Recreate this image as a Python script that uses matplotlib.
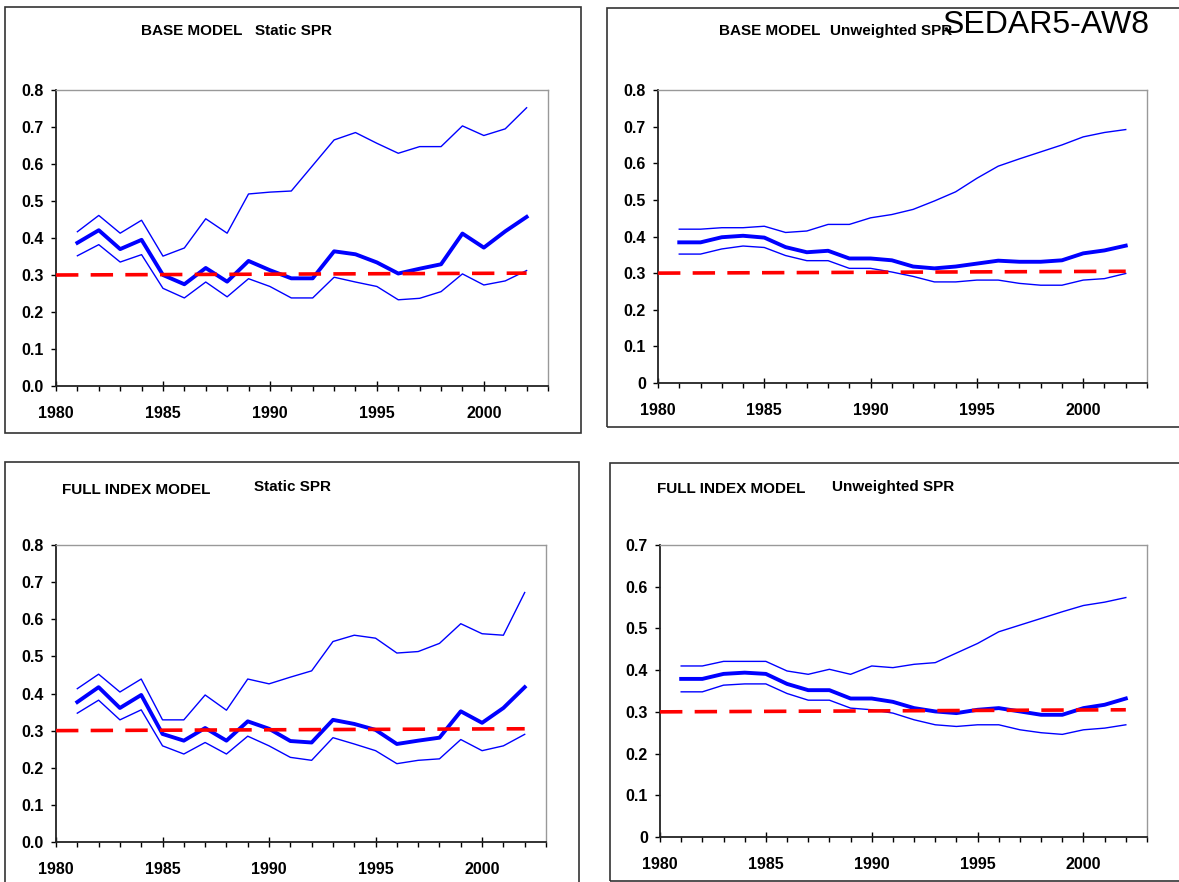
#SPR trajectories (estimate with upper and lower bounds) for the base and full index models

import numpy as np
import matplotlib.pyplot as plt
from matplotlib.patches import Rectangle
from matplotlib.ticker import MultipleLocator, FuncFormatter

plt.rcParams['font.family'] = ['Liberation Sans', 'DejaVu Sans']

years = list(range(1981, 2003))

#Base model, static SPR
base_static_mid = [0.387, 0.421, 0.370, 0.395, 0.300, 0.275, 0.319, 0.282, 0.338, 0.313, 0.291,
                   0.291, 0.364, 0.356, 0.334, 0.304, 0.317, 0.329, 0.412, 0.374, 0.418, 0.457]
base_static_hi = [0.417, 0.461, 0.413, 0.448, 0.351, 0.373, 0.452, 0.413, 0.519, 0.524, 0.527,
                  0.596, 0.665, 0.685, 0.656, 0.629, 0.647, 0.647, 0.703, 0.677, 0.695, 0.752]
base_static_lo = [0.352, 0.382, 0.335, 0.355, 0.264, 0.238, 0.281, 0.241, 0.290, 0.269, 0.238,
                  0.238, 0.294, 0.281, 0.269, 0.233, 0.237, 0.255, 0.303, 0.273, 0.284, 0.312]

#Base model, unweighted SPR
base_unw_mid = [0.384, 0.384, 0.398, 0.402, 0.397, 0.371, 0.357, 0.361, 0.340, 0.340, 0.335,
                0.318, 0.313, 0.318, 0.326, 0.334, 0.331, 0.331, 0.335, 0.354, 0.362, 0.375]
base_unw_hi = [0.420, 0.420, 0.424, 0.424, 0.428, 0.411, 0.415, 0.433, 0.433, 0.451, 0.460,
               0.474, 0.497, 0.522, 0.559, 0.592, 0.612, 0.631, 0.650, 0.672, 0.684, 0.692]
base_unw_lo = [0.352, 0.352, 0.366, 0.374, 0.370, 0.348, 0.334, 0.334, 0.313, 0.313, 0.303,
               0.291, 0.276, 0.276, 0.281, 0.281, 0.272, 0.267, 0.267, 0.281, 0.285, 0.299]

#Full index model, static SPR
full_static_mid = [0.377, 0.417, 0.361, 0.396, 0.291, 0.273, 0.307, 0.273, 0.325, 0.305, 0.272,
                   0.268, 0.329, 0.318, 0.302, 0.264, 0.273, 0.281, 0.352, 0.321, 0.361, 0.417]
full_static_hi = [0.413, 0.452, 0.404, 0.439, 0.329, 0.329, 0.396, 0.355, 0.439, 0.426, 0.444,
                  0.461, 0.540, 0.557, 0.549, 0.509, 0.513, 0.535, 0.588, 0.561, 0.557, 0.672]
full_static_lo = [0.347, 0.382, 0.329, 0.356, 0.259, 0.237, 0.268, 0.237, 0.285, 0.259, 0.228,
                  0.220, 0.281, 0.264, 0.246, 0.211, 0.220, 0.224, 0.276, 0.246, 0.259, 0.290]

#Full index model, unweighted SPR
full_unw_mid = [0.379, 0.379, 0.391, 0.394, 0.391, 0.367, 0.352, 0.352, 0.332, 0.332, 0.324,
                0.309, 0.301, 0.297, 0.305, 0.309, 0.301, 0.293, 0.293, 0.309, 0.317, 0.332]
full_unw_hi = [0.410, 0.410, 0.421, 0.421, 0.421, 0.398, 0.390, 0.402, 0.390, 0.410, 0.406,
               0.414, 0.418, 0.441, 0.464, 0.492, 0.508, 0.524, 0.540, 0.555, 0.563, 0.574]
full_unw_lo = [0.348, 0.348, 0.364, 0.367, 0.367, 0.344, 0.328, 0.328, 0.309, 0.305, 0.297,
               0.281, 0.269, 0.265, 0.269, 0.269, 0.257, 0.250, 0.246, 0.257, 0.261, 0.269]

#SPR target line
target_years = [1980, 2002]
target_spr = [0.300, 0.305]

W, H = 1179, 882
fig = plt.figure(figsize=(W / 100, H / 100), dpi=100)

def px_box(x0, y0, x1, y1):
    #pixel box (top-left origin) -> figure fraction [left, bottom, width, height]
    return [x0 / W, 1 - y1 / H, (x1 - x0) / W, (y1 - y0) / H]

#Outer borders around each chart
for x0, y0, x1, y1 in [(5, 7, 581, 433), (607, 8, 1190, 427), (5, 462, 579, 895), (610, 463, 1190, 881)]:
    fig.add_artist(Rectangle((x0 / W, 1 - y1 / H), (x1 - x0) / W, (y1 - y0) / H, transform=fig.transFigure,
                             fill=False, edgecolor='#333333', linewidth=1.2))

panels = [
    (px_box(56, 90, 548, 386), base_static_mid, base_static_hi, base_static_lo, 0.8, True),
    (px_box(658, 90, 1147, 383), base_unw_mid, base_unw_hi, base_unw_lo, 0.8, False),
    (px_box(56, 545, 546, 842), full_static_mid, full_static_hi, full_static_lo, 0.8, True),
    (px_box(660, 545, 1147, 837), full_unw_mid, full_unw_hi, full_unw_lo, 0.7, False),
]

for rect, mid, hi, lo, ymax, one_dec in panels:
    ax = fig.add_axes(rect)
    ax.plot(years, hi, color='#0000ff', linewidth=1.0)
    ax.plot(years, lo, color='#0000ff', linewidth=1.0)
    ax.plot(years, mid, color='#0000ff', linewidth=2.8)
    ax.plot(target_years, target_spr, color='#ff0000', linewidth=2.6, dashes=(6.2, 3.4), zorder=5)
    ax.set_xlim(1980, 2003)
    ax.set_ylim(0, ymax)
    ax.xaxis.set_major_locator(MultipleLocator(5))
    ax.xaxis.set_minor_locator(MultipleLocator(1))
    ax.yaxis.set_major_locator(MultipleLocator(0.1))
    if one_dec:
        ax.yaxis.set_major_formatter(FuncFormatter(lambda v, p: '%.1f' % v))
    else:
        ax.yaxis.set_major_formatter(FuncFormatter(lambda v, p: '0' if abs(v) < 1e-9 else '%.1f' % v))
    ax.tick_params(axis='x', which='major', direction='inout', length=6.5, width=1.0, pad=11, labelsize=11.5)
    ax.tick_params(axis='x', which='minor', direction='out', length=3.5, width=1.0)
    ax.tick_params(axis='y', which='major', direction='out', length=3.3, width=1.0, pad=5.5, labelsize=11.5)
    for lab in ax.get_xticklabels() + ax.get_yticklabels():
        lab.set_fontweight('bold')
    for side in ['left', 'bottom']:
        ax.spines[side].set_color('#222222')
        ax.spines[side].set_linewidth(1.3)
    for side in ['top', 'right']:
        ax.spines[side].set_color('#999999')
        ax.spines[side].set_linewidth(1.0)

#Chart titles
def title(x, y, s):
    fig.text(x / W, 1 - y / H, s, ha='left', va='center', fontsize=11, fontweight='bold')

title(141, 31, 'BASE MODEL')
title(255, 31, 'Static SPR')
title(719, 31, 'BASE MODEL')
title(830, 31, 'Unweighted SPR')
title(62, 490, 'FULL INDEX MODEL')
title(254, 487, 'Static SPR')
title(657, 489, 'FULL INDEX MODEL')
title(832, 487, 'Unweighted SPR')

fig.text(943 / W, 1 - 25 / H, 'SEDAR5-AW8', ha='left', va='center', fontsize=23)

plt.savefig('out.png', dpi=100)
